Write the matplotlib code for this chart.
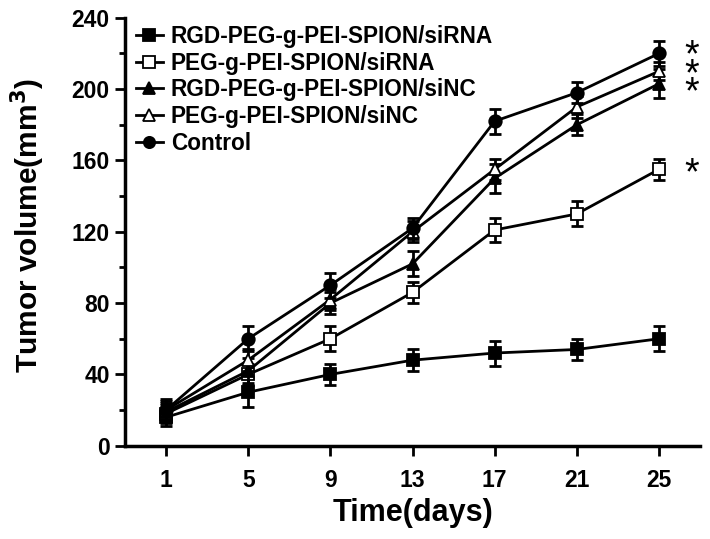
import numpy as np
import matplotlib.pyplot as plt
from matplotlib.ticker import MultipleLocator

plt.rcParams['font.family'] = ['Liberation Sans', 'DejaVu Sans']
plt.rcParams['font.weight'] = 'bold'

days = [1, 5, 9, 13, 17, 21, 25]
labels = ['RGD-PEG-g-PEI-SPION/siRNA', 'PEG-g-PEI-SPION/siRNA',
          'RGD-PEG-g-PEI-SPION/siNC', 'PEG-g-PEI-SPION/siNC', 'Control']
rgd_sirna = [16, 30, 40, 48, 52, 54, 60]
rgd_sirna_err = [5, 8, 6, 6, 7, 6, 7]
peg_sirna = [18, 40, 60, 86, 121, 130, 155]
peg_sirna_err = [5, 6, 7, 6, 7, 7, 6]
rgd_sinc = [19, 42, 80, 102, 150, 180, 203]
rgd_sinc_err = [5, 7, 6, 7, 8, 6, 8]
peg_sinc = [20, 48, 82, 120, 155, 190, 210]
peg_sinc_err = [5, 6, 6, 6, 6, 6, 5]
control = [20, 60, 90, 122, 182, 198, 220]
control_err = [6, 7, 7, 6, 7, 6, 7]

series = [rgd_sirna, peg_sirna, rgd_sinc, peg_sinc, control]
errs = [rgd_sirna_err, peg_sirna_err, rgd_sinc_err, peg_sinc_err, control_err]
markers = ['s', 's', '^', '^', 'o']
faces = ['black', 'white', 'black', 'white', 'black']

# significance marks: (y position, text)
stars = [(208, '*\n*\n*'), (152, '*')]

fig = plt.figure(figsize=(7.1, 5.39), dpi=100)
ax = fig.add_axes([0.176, 0.173, 0.81, 0.794])

for i in range(len(series)):
    ax.errorbar(days, series[i], yerr=errs[i], fmt='none', ecolor='black',
                capsize=4, capthick=2, elinewidth=2)
    ax.plot(days, series[i], color='black', lw=2, marker=markers[i], markersize=9,
            mfc=faces[i], mec='black', mew=1.3, label=labels[i])

for y, s in stars:
    ax.text(26.6, y, s, fontsize=27, fontweight='normal', ha='center', va='center',
            linespacing=0.37)

ax.set_xlim(-1, 27)
ax.set_ylim(0, 240)
ax.set_xticks(days)
ax.yaxis.set_major_locator(MultipleLocator(40))
ax.yaxis.set_minor_locator(MultipleLocator(20))
ax.spines['top'].set_visible(False)
ax.spines['right'].set_visible(False)
ax.spines['left'].set_linewidth(2.5)
ax.spines['bottom'].set_linewidth(2.5)
ax.tick_params(axis='both', which='major', direction='out', length=7, width=2, labelsize=16.5, pad=10)
ax.tick_params(axis='y', which='minor', direction='out', length=4, width=2)
ax.tick_params(axis='y', which='major', pad=4)

ax.set_xlabel('Time(days)', fontsize=22, fontweight='bold')
ax.set_ylabel('Tumor volume(mm$^\\mathbf{3}$)', fontsize=21.5, fontweight='bold')
ax.yaxis.set_label_coords(-0.136, 0.514)

ax.legend(loc='upper left', frameon=False, fontsize=16.3, handlelength=1.2,
          labelspacing=0.17, borderaxespad=0.0, handletextpad=0.35,
          markerscale=0.9, bbox_to_anchor=(0.003, 1.005))

fig.savefig('out.png', dpi=100)
